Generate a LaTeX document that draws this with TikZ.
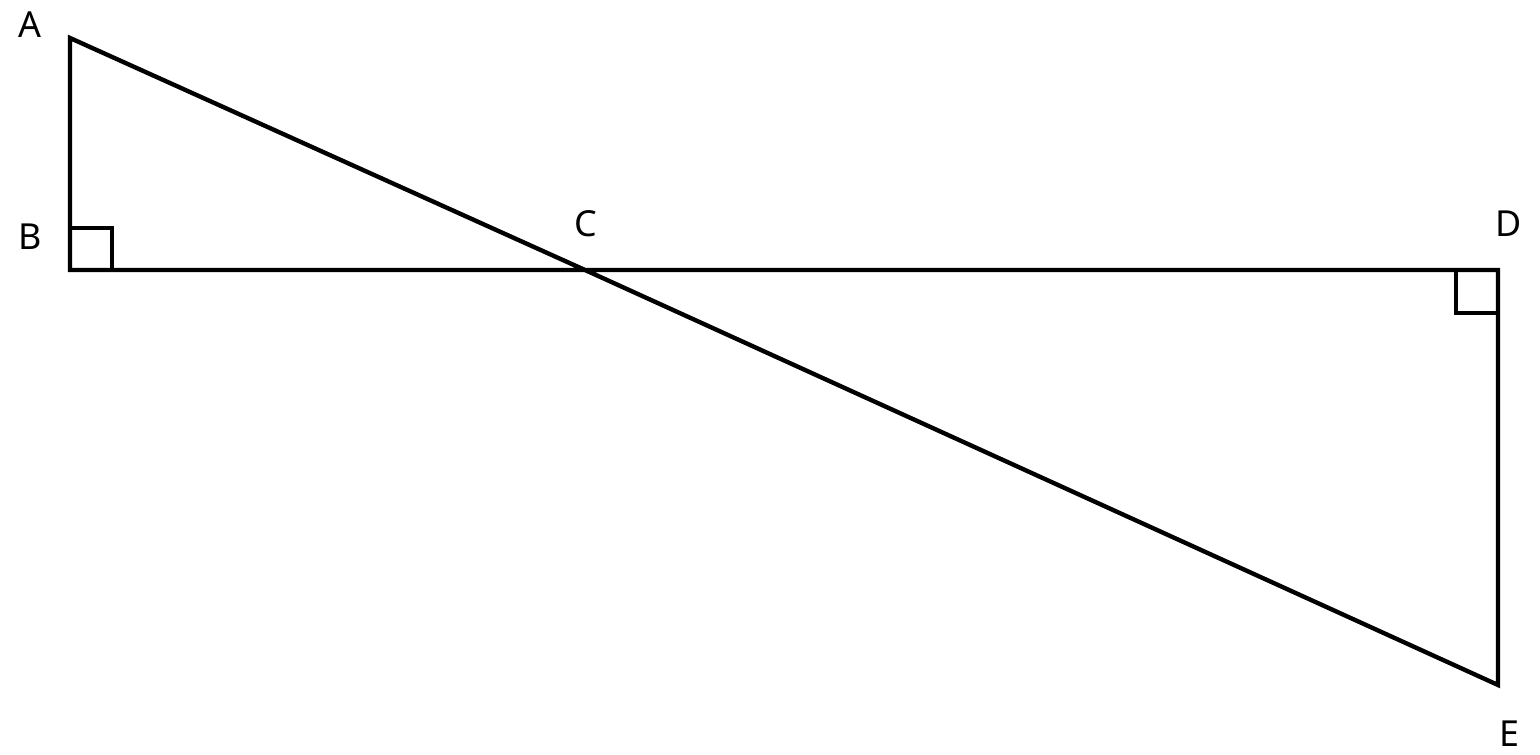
\documentclass[tikz,border=0pt]{standalone}
\usepackage{fontspec}
\setmainfont{Noto Sans}
\begin{document}
\begin{tikzpicture}[x=0.01cm,y=-0.01cm]
        \useasboundingbox (0,0) rectangle (1540,755);
        \tikzset{edge/.style={draw,line width=1.25pt,line join=miter},
                 lbl/.style={inner sep=0pt,font=\fontsize{10.2}{12}\selectfont}}
        \coordinate (A) at (70,38);
        \coordinate (B) at (70,270);
        \coordinate (C) at (585,270);
        \coordinate (D) at (1498,270);
        \coordinate (E) at (1498,685);

        \node[lbl] (a) at (30,25) {A};
        \node[lbl] (b) at (30,237) {B};
        \node[lbl] (c) at (586,224) {C};
        \node[lbl] (d) at (1509,224) {D};
        \node[lbl] (e) at (1509,734) {E};

        \path[edge] (A) -- (B) -- (C) -- (D) -- (E) -- (C) -- cycle;
        \path[edge] (B) rectangle ++(42,-42);
        \path[edge] (D) rectangle ++(-42,43);
    \end{tikzpicture}
\end{document}
